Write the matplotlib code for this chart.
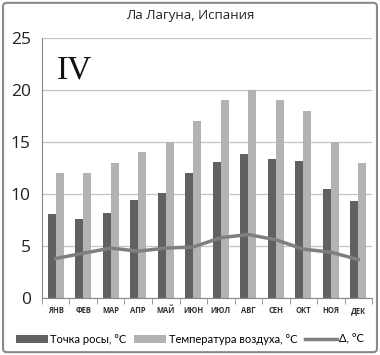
import matplotlib
matplotlib.use("Agg")
import matplotlib.pyplot as plt
import numpy as np
from matplotlib.patches import FancyBboxPatch

months = ["ЯНВ", "ФЕВ", "МАР", "АПР", "МАЙ", "ИЮН", "ИЮЛ", "АВГ", "СЕН", "ОКТ", "НОЯ", "ДЕК"]
dew_point = [8.1, 7.6, 8.2, 9.4, 10.1, 12.0, 13.1, 13.8, 13.4, 13.2, 10.5, 9.3]
air_temp = [12, 12, 13, 14, 15, 17, 19, 20, 19, 18, 15, 13]
delta = [3.8, 4.3, 4.8, 4.5, 4.8, 4.9, 5.8, 6.1, 5.6, 4.7, 4.4, 3.7]
title = "Ла Лагуна, Испания"
label_dew = "Точка росы, °C"
label_air = "Температура воздуха, °C"
label_delta = "Δ, °C"

plt.rcParams['font.family'] = ['Open Sans', 'DejaVu Sans']

fig = plt.figure(figsize=(3.8, 3.55), dpi=100)
ax = fig.add_axes([0.1105, 0.1606, 0.8685, 0.7324])

x = np.arange(len(months))
w = 0.29
b1 = ax.bar(x - w/2, dew_point, w, color="#616161", label=label_dew, zorder=2)
b2 = ax.bar(x + w/2, air_temp, w, color="#b3b3b3", label=label_air, zorder=2)
l1, = ax.plot(x, delta, color="#7f7f7f", lw=2.5, label=label_delta, zorder=3)

ax.set_xlim(-0.5, len(months) - 0.5)
ax.set_ylim(0, 25)
ax.set_yticks([0, 5, 10, 15, 20, 25])
ax.grid(axis='y', color="#c4c4c4", lw=0.9, zorder=0)
ax.set_axisbelow(True)
for s in ['top', 'right']:
    ax.spines[s].set_visible(False)
ax.spines['left'].set_color("#888888")
ax.spines['bottom'].set_color("#888888")
ax.tick_params(axis='y', length=0, labelsize=12.5, pad=8, colors="#222222")
ax.set_xticks(x)
ax.set_xticklabels(months, fontsize=5.5, fontweight='bold', color="#333333")
ax.tick_params(axis='x', length=0, pad=6)
ax.set_xticks(np.arange(-0.5, len(months)), minor=True)
ax.tick_params(axis='x', which='minor', length=4, color="#888888")

ax.text(0.045, 0.935, "IV", transform=ax.transAxes, fontsize=24,
        family='Liberation Serif', va='top', ha='left', color="#111111")

fig.text(0.5, 0.955, title, ha='center', va='center', fontsize=9.5, color="#222222")

leg = fig.legend(handles=[b1, b2, l1], loc='center', bbox_to_anchor=(0.5, 0.045), ncol=3,
                 frameon=False, prop={'family': 'Lato', 'size': 8.0},
                 handlelength=2.9, handletextpad=0.2, columnspacing=0.7, borderaxespad=0)

border = FancyBboxPatch((0.008, 0.008), 0.984, 0.984, boxstyle="round,pad=0,rounding_size=0.01",
                        transform=fig.transFigure, fill=False, edgecolor="#8a8a8a", lw=1.5)
fig.patches.append(border)

fig.savefig("out.png", dpi=100)
